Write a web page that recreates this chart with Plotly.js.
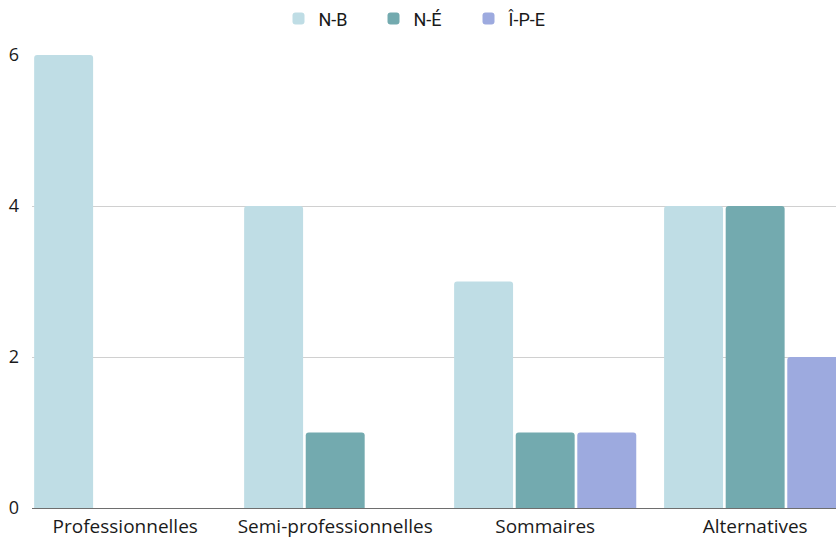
<!DOCTYPE html>
<html>
<head>
<meta charset="utf-8">
<script src="https://cdn.plot.ly/plotly-3.0.1.min.js"></script>
<style>
  html, body { margin: 0; padding: 0; background: #fff; }
  #chart { width: 836px; height: 539px; }
</style>
</head>
<body>
<div id="chart"></div>
<script>
// Categories and the three series
const categories = ["Professionnelles", "Semi-professionnelles", "Sommaires", "Alternatives"];
const seriesNames = ["N-B", "N-É", "Î-P-E"];
const valuesNB = [6, 4, 3, 4];
const valuesNE = [0, 1, 1, 4];
const valuesIPE = [0, 0, 1, 2];
const yTicks = [0, 2, 4, 6];

const colors = ["#BFDDE5", "#73AAAF", "#9DAADF"];
const seriesValues = [valuesNB, valuesNE, valuesIPE];

const traces = seriesValues.map((vals, i) => ({
  type: "bar",
  name: seriesNames[i],
  x: categories.map((_, k) => k),
  y: vals,
  marker: { color: colors[i], cornerradius: 3, line: { width: 0 } },
  hoverinfo: "none"
}));

const layout = {
  width: 836,
  height: 539,
  margin: { l: 32, r: 0, t: 55, b: 31 },
  paper_bgcolor: "#ffffff",
  plot_bgcolor: "#ffffff",
  font: { family: "Open Sans, sans-serif", size: 18, color: "#1a1a1a" },
  barmode: "group",
  bargap: 0.12,
  bargroupgap: 0.043,
  showlegend: true,
  legend: {
    orientation: "h",
    x: 0.5036, xref: "container", xanchor: "center",
    y: 0.965, yref: "container", yanchor: "middle",
    font: { family: "Roboto, sans-serif", size: 18, color: "#1a1a1a" },
    entrywidth: 50,
    itemclick: false
  },
  xaxis: {
    range: [-0.444, 3.385],
    tickmode: "array",
    tickvals: categories.map((_, k) => k),
    ticktext: categories,
    showgrid: false,
    zeroline: false,
    showline: false,
    ticks: "",
    tickfont: { family: "Open Sans, sans-serif", size: 19, color: "#1a1a1a" },
    ticklabelstandoff: 5,
    fixedrange: true
  },
  yaxis: {
    range: [0, 6],
    tickmode: "array",
    tickvals: yTicks,
    ticktext: yTicks.map(String),
    showgrid: true,
    gridcolor: "#d0d0d0",
    gridwidth: 1,
    zeroline: true,
    zerolinecolor: "#6e6e6e",
    zerolinewidth: 1,
    showline: false,
    ticks: "",
    tickfont: { family: "Open Sans, sans-serif", size: 18, color: "#1a1a1a" },
    ticklabelstandoff: 12,
    fixedrange: true
  }
};

Plotly.newPlot("chart", traces, layout, { displayModeBar: false, staticPlot: true });
</script>
</body>
</html>
